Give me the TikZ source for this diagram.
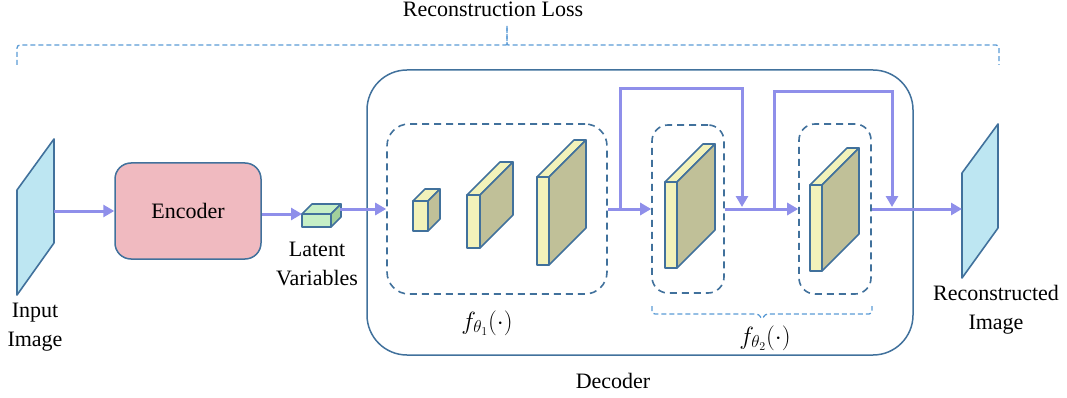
\documentclass[tikz,border=0pt]{standalone}
\usepackage{fontspec}
\setmainfont{Liberation Serif}
\usetikzlibrary{positioning,arrows.meta}

\definecolor{edgeblue}{RGB}{65,113,156}
\definecolor{bracecol}{RGB}{91,155,213}
\definecolor{flowcol}{RGB}{143,143,234}
\definecolor{encfill}{RGB}{240,186,192}
\definecolor{imgfill}{RGB}{189,230,242}
\definecolor{facefront}{RGB}{242,242,186}
\definecolor{faceside}{RGB}{192,192,152}
\definecolor{latfront}{RGB}{198,239,198}
\definecolor{latside}{RGB}{163,208,155}

\tikzset{
  flow/.style={draw=flowcol, line width=3pt, -{Triangle[length=11pt,width=12pt]}},
  groupbox/.style={draw=edgeblue, line width=1.6pt, dash pattern=on 7pt off 5pt, rounded corners=22pt, inner sep=0pt},
  cubeedge/.style={draw=edgeblue, line width=1.6pt, line join=round},
  brace/.style={draw=bracecol, line width=1.3pt, dash pattern=on 5pt off 3pt, rounded corners=3pt},
  lbl/.style={font=\fontsize{22}{29}\selectfont, align=center, inner sep=0pt},
  mathlbl/.style={font=\fontsize{25}{29}\selectfont, inner sep=0pt},
}

% front-left x, front top y, width, height, depth, front colour, side colour
\newcommand{\cuboid}[7]{%
  \draw[cubeedge, fill=#6] (#1,#2) rectangle ({#1+#3},{#2+#4});
  \draw[cubeedge, fill=#6] (#1,#2) -- ({#1+#5},{#2-#5}) -- ({#1+#3+#5},{#2-#5}) -- ({#1+#3},#2) -- cycle;
  \draw[cubeedge, fill=#7] ({#1+#3},#2) -- ({#1+#3+#5},{#2-#5}) -- ({#1+#3+#5},{#2+#4-#5}) -- ({#1+#3},{#2+#4}) -- cycle;
}

\begin{document}
\begin{tikzpicture}[x=1pt,y=-1pt]
  \useasboundingbox (0,0) rectangle (1067,398);
  %% boxes
  \node (Dec) at (640,212.5) [draw=edgeblue, line width=1.5pt, rounded corners=40pt, minimum width=546pt, minimum height=285pt] {};
  \node (Enc) at (188,211) [draw=edgeblue, line width=1.5pt, fill=encfill, rounded corners=16pt, minimum width=146pt, minimum height=96pt, lbl] {Encoder};
  \node (G1) at (497,209) [groupbox, minimum width=220pt, minimum height=170pt] {};
  \node (G2) at (688,209) [groupbox, rounded corners=16pt, minimum width=72pt, minimum height=168pt] {};
  \node (G3) at (835,209) [groupbox, rounded corners=16pt, minimum width=72pt, minimum height=170pt] {};
  %% images
  \draw[cubeedge, fill=imgfill] (17,190) -- (54,139) -- (54,243) -- (17,295) -- cycle;
  \draw[cubeedge, fill=imgfill] (962,173) -- (998,124) -- (998,228) -- (962,278) -- cycle;
  \coordinate (InR) at (54,211);
  \coordinate (OutL) at (962,209);
  %% feature maps
  \cuboid{302}{214}{29}{13}{10}{latfront}{latside}
  \coordinate (LatW) at (302,214);
  \coordinate (LatE) at (340,209);
  \cuboid{413}{201}{15}{30}{12}{facefront}{faceside}
  \cuboid{467}{195}{13}{53}{33}{facefront}{faceside}
  \cuboid{537}{177}{12}{88}{37}{facefront}{faceside}
  \cuboid{665}{182}{12}{86}{38}{facefront}{faceside}
  \cuboid{810}{185}{12}{86}{37}{facefront}{faceside}
  %% connectors
  \draw[flow] (InR) -- (Enc.west |- InR);
  \draw[flow] (Enc.east |- LatW) -- (LatW);
  \draw[flow] (LatE) -- (G1.west);
  \draw[flow] (G1.east) -- (G2.west);
  \draw[flow] (G2.east) -- (G3.west);
  \draw[flow] (G3.east) -- (OutL);
  \coordinate (S1) at (620,209);
  \coordinate (J1) at (742,207);
  \coordinate (S2) at (774,209);
  \coordinate (J2) at (892,207);
  \draw[flow] (S1) -- ++(0,-120) -| (J1);
  \draw[flow] (S2) -- ++(0,-117) -| (J2);
  %% braces
  \draw[brace] (17,65) |- (503,45) .. controls (507,45) and (507,43) .. (507,39) -- (507,26);
  \draw[brace] (507,26) -- (507,39) .. controls (507,43) and (507,45) .. (511,45) -| (999,65);
  \draw[brace] (652,306) |- (759,314) -- (762,320) -- (765,314) -| (872,306);
  %% labels
  \node (LossLbl) at (493,16.5) [lbl, anchor=base] {Reconstruction Loss};
  \node (InLbl) at (35,303) [lbl, anchor=north] {Input\\Image};
  \node (LatLbl) at (317,242) [lbl, anchor=north] {Latent\\Variables};
  \node (OutLbl) at (996,285) [lbl, anchor=north] {Reconstructed\\Image};
  \node (DecLbl) at (613,388) [lbl, anchor=base] {Decoder};
  \node (F1Lbl) at (487,323) [mathlbl] {$f_{\theta_1}(\cdot)$};
  \node (F2Lbl) at (765,338) [mathlbl] {$f_{\theta_2}(\cdot)$};
\end{tikzpicture}
\end{document}
